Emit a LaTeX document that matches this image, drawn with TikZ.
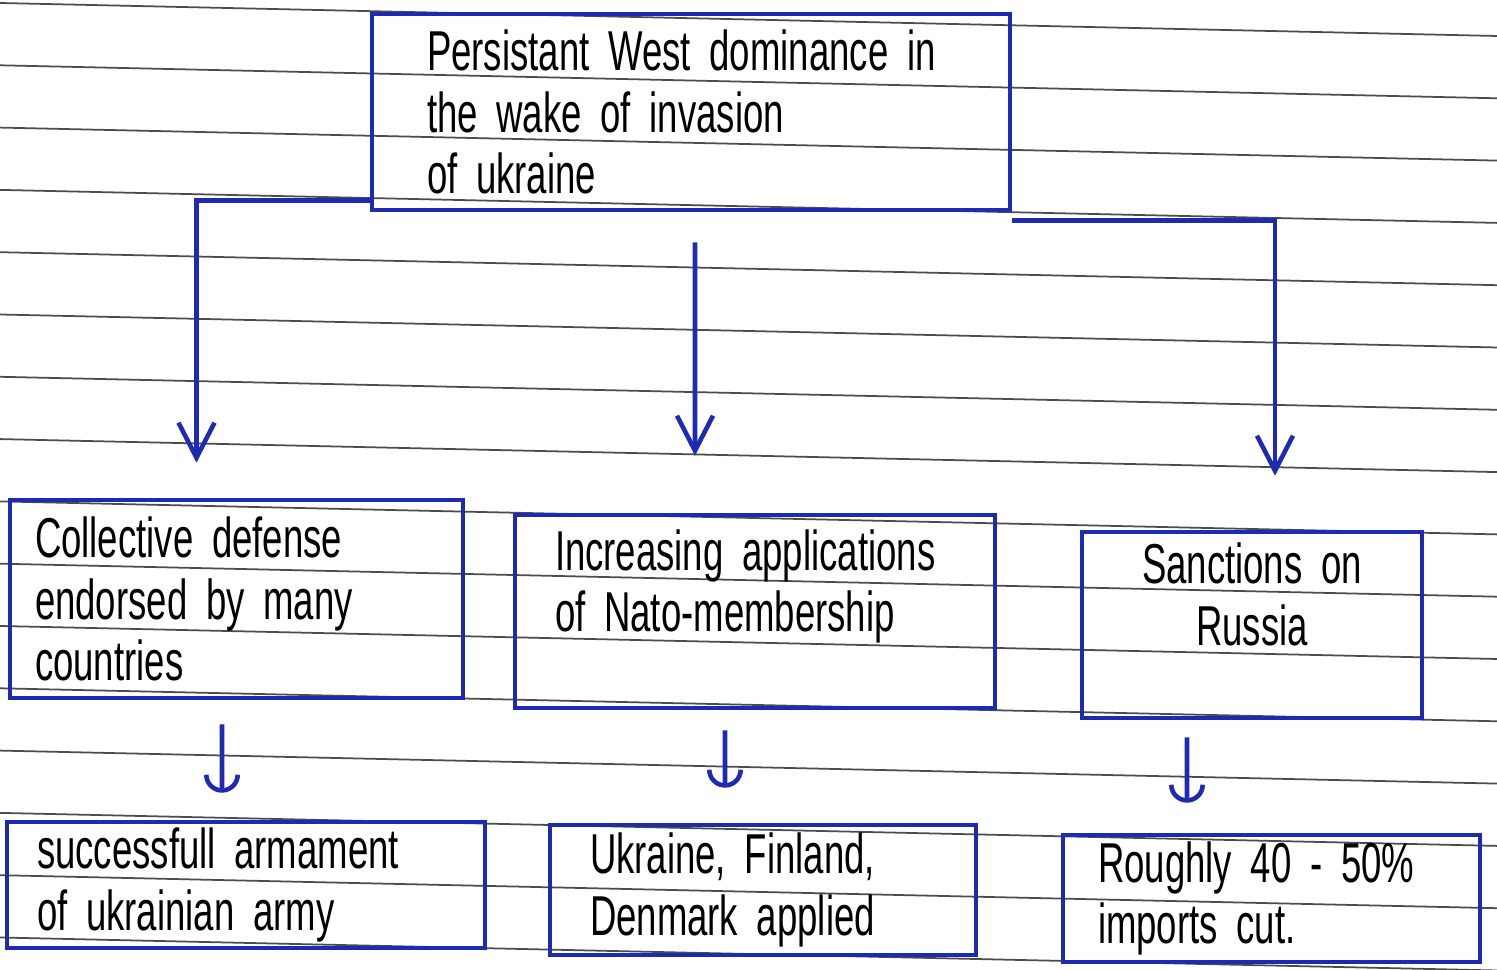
\documentclass[tikz,border=0pt]{standalone}
\usepackage{fontspec}
\setmainfont[FakeStretch=0.65, WordSpace=2]{Liberation Sans}
\usepackage{xcolor}
\usetikzlibrary{arrows.meta}
\definecolor{penblue}{RGB}{30,42,178}

\begin{document}
\begin{tikzpicture}[
  pen/.style={draw=penblue, line width=1.3pt},
  box/.style={pen, align=left, inner ysep=1pt, font=\fontsize{16}{17.5}\selectfont},
  arr/.style={pen, -{Straight Barb[length=3.5mm, width=3.6mm]}},
  sarr/.style={pen, -{Arc Barb[length=1.8mm, width=3.6mm]}},
  ruling/.style={black!70, line width=0.5pt}]
  \useasboundingbox (0, 0) rectangle (14.97, 9.70);

  % Ruled paper
  \begin{scope}
    \clip (0, 0) rectangle (14.97, 9.70);
    \foreach \k in {0,...,15}
      \draw[ruling] (0, 9.67-0.623*\k) -- (14.97, 9.34-0.623*\k);
  \end{scope}

  % Top
  \node[box, text width=5.28cm, inner xsep=0.55cm, minimum height=1.96cm]
    (west) at (6.91, 8.58) {Persistant West dominance in\\ the wake of invasion\\ of ukraine};

  % Row 2
  \node[box, text width=4.03cm, inner xsep=0.25cm, minimum height=1.98cm]
    (coll) at (2.365, 3.71) {Collective defense\\ endorsed by many\\ countries};
  \node[box, text width=4.0cm, inner xsep=0.4cm, minimum height=1.93cm]
    (nato) at (7.55, 3.585) {Increasing applications\\ of Nato-membership\\ \mbox{}};
  \node[box, align=center, text width=2.8cm, inner xsep=0.3cm, minimum height=1.86cm]
    (sanc) at (12.52, 3.45) {Sanctions on\\ Russia\\ \mbox{}};

  % Row 3
  \node[box, text width=4.18cm, inner xsep=0.3cm, minimum height=1.26cm]
    (arm) at (2.46, 0.85) {successfull armament\\ of ukrainian army};
  \node[box, text width=3.46cm, inner xsep=0.4cm, minimum height=1.30cm]
    (appl) at (7.63, 0.80) {Ukraine, Finland,\\ Denmark applied};
  \node[box, text width=3.47cm, inner xsep=0.35cm, minimum height=1.27cm]
    (imp) at (12.715, 0.715) {Roughly 40 - 50\%\\ imports cut.};

  % Arrows from top
  \draw[arr] ([yshift=1.2mm]west.south west) -| ([xshift=-4mm, yshift=3.5mm]coll.north);
  \draw[arr] ([xshift=0.4mm, yshift=-3mm]west.south) -- ([xshift=-6mm, yshift=5.7mm]nato.north);
  \draw[arr] ([yshift=-0.8mm]west.south east) -| ([xshift=2.3mm, yshift=5.4mm]sanc.north);

  % Arrows down
  \draw[sarr] ([xshift=-1.45mm, yshift=-2.4mm]coll.south) -- ([xshift=-2.4mm, yshift=2.7mm]arm.north);
  \draw[sarr] ([xshift=-3mm, yshift=-2mm]nato.south) -- ([xshift=-3.8mm, yshift=3.5mm]appl.north);
  \draw[sarr] ([xshift=-6.5mm, yshift=-1.7mm]sanc.south) -- ([xshift=-8.45mm, yshift=3mm]imp.north);
\end{tikzpicture}
\end{document}
